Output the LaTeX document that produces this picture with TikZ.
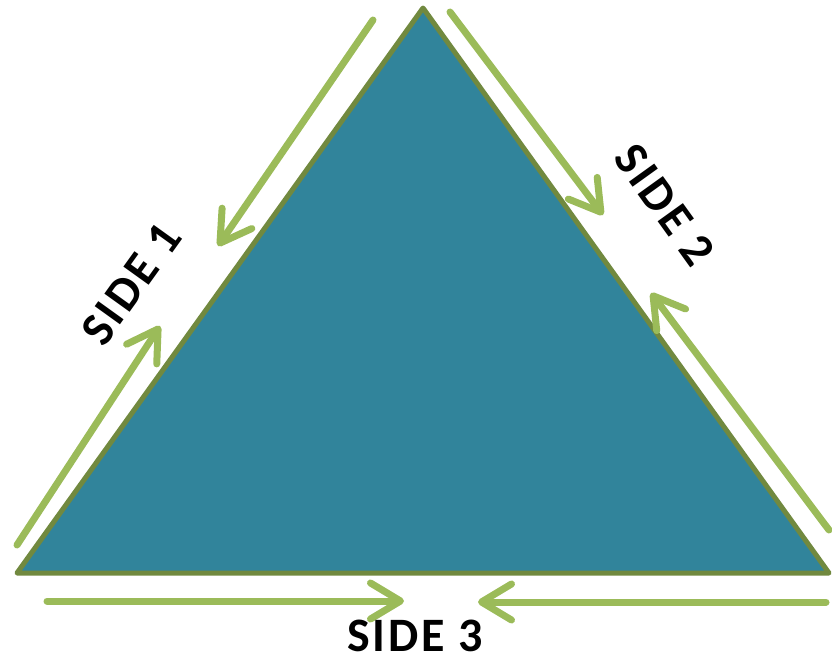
\documentclass[tikz,border=0pt]{standalone}
\usepackage{fontspec}
\setmainfont{Carlito}
\usetikzlibrary{arrows.meta}
\definecolor{tealfill}{HTML}{31849B}
\definecolor{oliveline}{HTML}{71893F}
\definecolor{leafgreen}{HTML}{9BBB59}
\tikzset{
  sidearrow/.style={leafgreen, line width=7pt, line cap=round,
    -{Straight Barb[length=30pt,width=36pt,round]}},
  sidelabel/.style={font=\fontsize{48}{48}\selectfont\bfseries\addfontfeature{LetterSpace=6}, inner sep=0pt}
}
\begin{document}
\begin{tikzpicture}[x=1pt,y=-1pt]
  \useasboundingbox (0,0) rectangle (832,659);
  % corners of the triangle
  \coordinate (top) at (423,8);
  \coordinate (left) at (17,573);
  \coordinate (right) at (829,573);
  \filldraw[fill=tealfill, draw=oliveline, line width=5pt, line join=round]
    (top) -- (right) -- (left) -- cycle;
  % arrow ends
  \coordinate (a1s) at (373,20);  \coordinate (a1t) at (218,246);
  \coordinate (b1s) at (17,545);  \coordinate (b1t) at (160,326);
  \coordinate (a2s) at (450,12);  \coordinate (a2t) at (603,215);
  \coordinate (b2s) at (829,530); \coordinate (b2t) at (651,293);
  \coordinate (a3s) at (47,601);  \coordinate (a3t) at (404,601);
  \coordinate (b3s) at (826,602); \coordinate (b3t) at (478,602);
  \foreach \s/\t in {a1s/a1t, b1s/b1t, a2s/a2t, b2s/b2t, a3s/a3t, b3s/b3t}
    \draw[sidearrow] (\s) -- (\t);
  % labels
  \node[sidelabel, rotate=54.3] (side1) at (131,284) {SIDE 1};
  \node[sidelabel, rotate=-54.3] (side2) at (665,205) {SIDE 2};
  \node[sidelabel] (side3) at (415,636) {SIDE 3};
\end{tikzpicture}
\end{document}
